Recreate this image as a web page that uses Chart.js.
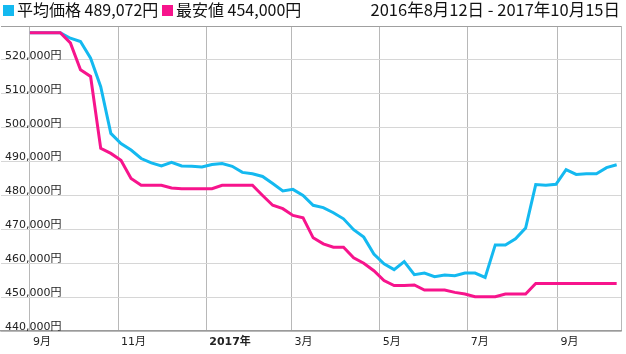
<!DOCTYPE html>
<html>
<head>
<meta charset="utf-8">
<script src="https://cdn.jsdelivr.net/npm/chart.js@4/dist/chart.umd.min.js"></script>
<style>
  html, body { margin: 0; padding: 0; background: #fff; }
  #wrap { position: relative; width: 626px; height: 354px; overflow: hidden; }
  #c { position: absolute; left: 0; top: 0; }
  .lg { position: absolute; top: -1px; font-family: "Noto Sans CJK JP", sans-serif; font-size: 16px; line-height: 20px; color: #111; white-space: nowrap; }
  .sq { display: inline-block; width: 11px; height: 11px; vertical-align: 0px; margin-right: 3px; }
</style>
</head>
<body>
<div id="wrap">
  <canvas id="c" width="626" height="354"></canvas>
  <div class="lg" style="left:3px;"><span class="sq" style="background:#14b9f0"></span>平均価格 489,072円</div>
  <div class="lg" style="left:162px;"><span class="sq" style="background:#f7148c"></span>最安値 454,000円</div>
  <div class="lg" style="right:6px; font-size:16.5px;">2016年8月12日 - 2017年10月15日</div>
</div>
<script>
// ---- data ----
const startDate = '2016-08-12';
const endDate = '2017-10-15';
const dates = [
  '2016-09-01','2016-09-08','2016-09-15','2016-09-22','2016-09-29',
  '2016-10-06','2016-10-13','2016-10-20','2016-10-27',
  '2016-11-03','2016-11-10','2016-11-17','2016-11-24',
  '2016-12-01','2016-12-08','2016-12-15','2016-12-22','2016-12-29',
  '2017-01-05','2017-01-12','2017-01-19','2017-01-26',
  '2017-02-02','2017-02-09','2017-02-16','2017-02-23',
  '2017-03-02','2017-03-09','2017-03-16','2017-03-23','2017-03-30',
  '2017-04-06','2017-04-13','2017-04-20','2017-04-27',
  '2017-05-04','2017-05-11','2017-05-18','2017-05-25',
  '2017-06-01','2017-06-08','2017-06-15','2017-06-22','2017-06-29',
  '2017-07-06','2017-07-13','2017-07-20','2017-07-27',
  '2017-08-03','2017-08-10','2017-08-17','2017-08-24','2017-08-31',
  '2017-09-07','2017-09-14','2017-09-21','2017-09-28',
  '2017-10-05','2017-10-12'
];
const avgPrice = [
  528000, 528000, 528000, 528000, 526400, 525400, 520500, 512100, 498300, 495300,
  493400, 490900, 489600, 488700, 489800, 488700, 488600, 488400, 489100, 489400,
  488600, 486800, 486400, 485600, 483500, 481300, 481800, 480000, 477100, 476400,
  474900, 473100, 469900, 467700, 462700, 459800, 458100, 460500, 456600, 457100,
  456000, 456500, 456300, 457100, 457100, 455800, 465400, 465400, 467200, 470400,
  483200, 483000, 483300, 487600, 486200, 486400, 486400, 488200, 489072
];
const minPrice = [
  528000, 528000, 528000, 528000, 525000, 517100, 515100, 493900, 492400, 490400,
  485000, 483000, 483000, 483000, 482200, 482000, 482000, 482000, 482000, 483000,
  483000, 483000, 483000, 480000, 477100, 476100, 474100, 473400, 467500, 465700,
  464700, 464700, 461600, 460000, 457800, 454900, 453400, 453400, 453600, 452100,
  452100, 452100, 451400, 450900, 450100, 450100, 450100, 450900, 450900, 450900,
  454000, 454000, 454000, 454000, 454000, 454000, 454000, 454000, 454000
];
const tickDates = ['2016-09-01','2016-11-01','2017-01-01','2017-03-01','2017-05-01','2017-07-01','2017-09-01'];
const tickLabels = ['9月','11月','2017年','3月','5月','7月','9月'];
const yTicks = [440000, 450000, 460000, 470000, 480000, 490000, 500000, 510000, 520000, 530000];

// ---- helpers ----
const DAY = 86400000;
const t0 = Date.parse(startDate);
const dayOf = s => Math.round((Date.parse(s) - t0) / DAY);
const xMax = dayOf(endDate);
const tickDays = tickDates.map(dayOf);

const avgPts = dates.map((d, i) => ({ x: dayOf(d), y: avgPrice[i] }));
const minPts = dates.map((d, i) => ({ x: dayOf(d), y: minPrice[i] }));

const tickFont = { family: '"DejaVu Sans", "Noto Sans CJK JP", sans-serif', size: 11 };

new Chart(document.getElementById('c'), {
  type: 'line',
  data: {
    datasets: [
      { label: '最安値', data: minPts, borderColor: '#f7148c', borderWidth: 3, pointRadius: 0, tension: 0, fill: false },
      { label: '平均価格', data: avgPts, borderColor: '#14b9f0', borderWidth: 3, pointRadius: 0, tension: 0, fill: false }
    ]
  },
  options: {
    responsive: false,
    animation: false,
    layout: { padding: { top: 26, right: 5, left: 0, bottom: 0 } },
    plugins: { legend: { display: false }, tooltip: { enabled: false } },
    scales: {
      x: {
        type: 'linear',
        min: 0,
        max: xMax,
        afterBuildTicks: axis => {
          axis.ticks = tickDays.map(v => ({ value: v })).concat([{ value: xMax }]);
        },
        afterFit: axis => { axis.height = 23; },
        grid: { color: '#b8b8b8', drawTicks: false, lineWidth: 1 },
        border: { display: true, color: '#9a9a9a', width: 1.5 },
        ticks: {
          autoSkip: false,
          maxRotation: 0,
          align: 'start',
          labelOffset: 3,
          padding: 5,
          color: '#222',
          font: ctx => {
            const lbl = ctx.tick ? tickLabels[tickDays.indexOf(ctx.tick.value)] : '';
            return Object.assign({}, tickFont, { weight: lbl === '2017年' ? 'bold' : 'normal' });
          },
          callback: v => {
            const i = tickDays.indexOf(v);
            return i >= 0 ? tickLabels[i] : '';
          }
        }
      },
      y: {
        min: yTicks[0],
        max: yTicks[yTicks.length - 1],
        afterBuildTicks: axis => { axis.ticks = yTicks.map(v => ({ value: v })); },
        afterFit: axis => { axis.width = 1; },
        grid: {
          drawTicks: false,
          color: ctx => (ctx.tick && ctx.tick.value === 530000) ? '#a0a0a0' : '#d6d6d6'
        },
        border: { display: false },
        ticks: {
          mirror: true,
          padding: 4,
          labelOffset: -4,
          color: '#222',
          font: tickFont,
          callback: v => v === 530000 ? '' : v.toLocaleString('en-US') + '円'
        }
      }
    }
  }
});
</script>
</body>
</html>
